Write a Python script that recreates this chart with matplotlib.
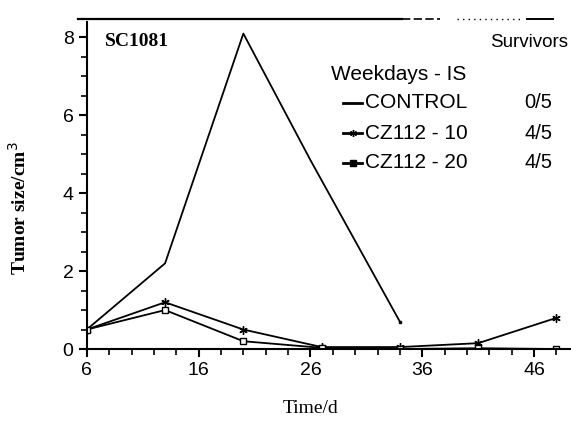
import matplotlib.pyplot as plt
from matplotlib.ticker import MultipleLocator
from matplotlib.lines import Line2D

# data
days = [6, 13, 20, 27, 34, 41, 48]
control_days = [6, 13, 20, 26, 34]
control = [0.5, 2.2, 8.1, 4.85, 0.7]
cz112_10 = [0.5, 1.2, 0.5, 0.05, 0.05, 0.15, 0.8]
cz112_20 = [0.5, 1.0, 0.2, 0.03, 0.0, 0.02, 0.0]
groups = ["CONTROL", "CZ112 - 10", "CZ112 - 20"]
survivors = ["0/5", "4/5", "4/5"]
xticks = [6, 16, 26, 36, 46]
yticks = [0, 2, 4, 6, 8]

plt.rcParams["font.family"] = ["Liberation Sans", "DejaVu Sans"]
star = (6, 2, 0)

fig = plt.figure(figsize=(5.71, 4.21), dpi=100)
ax = fig.add_axes([0.152, 0.171, 0.848, 0.777])

ax.plot(control_days, control, color="black", lw=1.3)
ax.plot(control_days[-1:], control[-1:], color="black", marker="s", ms=1.8)
ax.plot(days, cz112_10, color="black", lw=1.3, marker=star, ms=6, mew=1)
ax.plot(days, cz112_20, color="black", lw=1.3, marker="s", ms=4,
        mfc="white", mew=1)

ax.set_xlim(6, 49.3)
ax.set_ylim(0, 8.4)
ax.set_xticks(xticks)
ax.set_yticks(yticks)
ax.xaxis.set_minor_locator(MultipleLocator(2))
ax.yaxis.set_minor_locator(MultipleLocator(0.5))
ax.tick_params(axis="both", which="major", direction="out", length=6,
               width=1.5, labelsize=14)
ax.tick_params(axis="both", which="minor", direction="out", length=4,
               width=1.2)
ax.spines["top"].set_visible(False)
ax.spines["right"].set_visible(False)
ax.spines["left"].set_linewidth(1.5)
ax.spines["bottom"].set_linewidth(1.5)

ax.set_xlabel("Time/d", family="Liberation Serif", fontsize=14)
ax.xaxis.set_label_coords(0.463, -0.155)
ax.set_ylabel("Tumor size/cm$^3$", family="Liberation Serif", fontsize=14,
              fontweight="bold")
ax.yaxis.set_label_coords(-0.118, 0.43)

ax.text(0.037, 0.965, "SC1081", transform=ax.transAxes,
        family="Liberation Serif", fontweight="bold", fontsize=14, va="top")

# frame line across the top (partly faded in the scan)
fig.add_artist(Line2D([0.137, 0.704], [0.955, 0.955], color="black", lw=1.6))
fig.add_artist(Line2D([0.704, 0.77], [0.955, 0.955], color="black", lw=1.2,
                      ls=(0, (5, 2))))
fig.add_artist(Line2D([0.80, 0.91], [0.955, 0.955], color="black", lw=1.0,
                      ls=(0, (1, 3))))
fig.add_artist(Line2D([0.923, 0.968], [0.955, 0.955], color="black", lw=1.4))

# hand-made legend
fig.text(0.995, 0.898, "Survivors", ha="right", va="center", fontsize=13.5)
fig.text(0.579, 0.824, "Weekdays - IS", ha="left", va="center", fontsize=15)
rows_y = [0.756, 0.684, 0.613]
markers = [None, star, "s"]
for yy, name, surv, mk in zip(rows_y, groups, survivors, markers):
    fig.add_artist(Line2D([0.601, 0.6175, 0.634], [yy, yy, yy], color="black",
                          lw=2, marker=mk, markevery=[1] if mk else None,
                          ms=5, mfc="black"))
    fig.text(0.639, yy, name, ha="left", va="center", fontsize=15)
    fig.text(0.918, yy, surv, ha="left", va="center", fontsize=14.5)

fig.savefig("out.png", dpi=100)
